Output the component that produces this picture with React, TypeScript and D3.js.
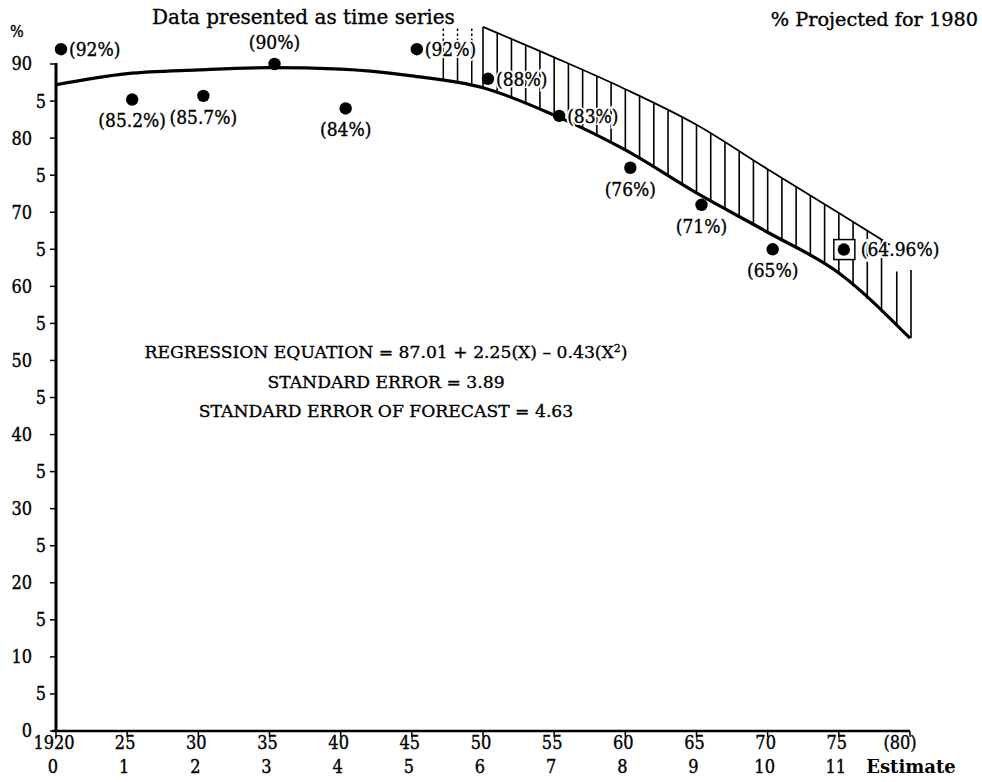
import React from 'react';
import * as d3 from 'd3';

// ---------- data ----------
const pointYears = [1920, 1925, 1930, 1935, 1940, 1945, 1950, 1955, 1960, 1965, 1970, 1975];
const pointValues = [92, 85.2, 85.7, 90, 84, 92, 88, 83, 76, 71, 65, 64.96];
const pointLabels = ['(92%)', '(85.2%)', '(85.7%)', '(90%)', '(84%)', '(92%)', '(88%)', '(83%)', '(76%)', '(71%)', '(65%)', '(64.96%)'];

// regression curve as drawn
const fitYears = [1920, 1925, 1930, 1935, 1940, 1945, 1950, 1955, 1960, 1965, 1970, 1975, 1980];
const fitValues = [87.2, 88.7, 89.2, 89.5, 89.3, 88.4, 86.8, 83.1, 78.4, 72.6, 67.3, 61.8, 53.0];

// upper limit of forecast band
const bandYears = [1950, 1955, 1960, 1965, 1970, 1975, 1978.6];
const bandUpper = [95.0, 90.9, 86.6, 81.8, 75.8, 69.9, 65.6];

// hatch lines (one per year)
const hatchDashedYears = [1947, 1948, 1949];
const hatchDashedTop = 94.8;
const hatchDashedSplit = 92.8;
const hatchTailYears = [1979, 1980];
const hatchTailTop = [62.0, 62.2];

const yearTickLabels = ['1920', '25', '30', '35', '40', '45', '50', '55', '60', '65', '70', '75', '(80)'];
const indexTickLabels = ['0', '1', '2', '3', '4', '5', '6', '7', '8', '9', '10', '11', 'Estimate'];
const yTickValues = d3.range(0, 91, 5);

const titleLeft = 'Data presented as time series';
const titleRight = '% Projected for 1980';
const eqLine2 = 'STANDARD ERROR = 3.89';
const eqLine3 = 'STANDARD ERROR OF FORECAST = 4.63';

// label placement (layout)
const labelPlacement = ['right', 'below', 'below', 'above', 'below', 'right', 'right', 'right', 'below', 'below', 'below', 'right'];

const FONT_C = '"DejaVu Serif Condensed", "DejaVu Serif", serif';
const FONT_R = '"DejaVu Serif", serif';
const INK = { fill: '#000', stroke: '#000', strokeWidth: 0.35 } as const;

export default function App() {
  const W = 982, H = 782;
  const x = d3.scaleLinear().domain([1920, 1980]).range([56, 910]);
  const y = d3.scaleLinear().domain([0, 90]).range([731, 64]);
  const DOT_DX = 5;

  const fitLine = d3.line<number>()
    .x((_, i) => x(fitYears[i]))
    .y((d) => y(d))
    .curve(d3.curveMonotoneX);
  const bandLine = d3.line<number>()
    .x((_, i) => x(bandYears[i]))
    .y((d) => y(d))
    .curve(d3.curveMonotoneX);

  const fitInterp = d3.scaleLinear().domain(fitYears).range(fitValues);
  const bandInterp = d3.scaleLinear().domain(bandYears).range(bandUpper);

  const solidHatchYears = d3.range(1950, 1979, 1);
  const yearTicks = d3.range(1920, 1981, 5);

  return (
    <svg width={W} height={H} style={{ position: 'absolute', left: 0, top: 0, background: '#fff' }}
      fontFamily={FONT_C}>
      <rect x={0} y={0} width={W} height={H} fill="#fff" />

      {/* hatch lines */}
      {hatchDashedYears.map((yr) => (
        <g key={'hd' + yr}>
          <line x1={x(yr) + 3} x2={x(yr) + 3} y1={y(hatchDashedTop)} y2={y(hatchDashedSplit)}
            stroke="#000" strokeWidth={1.5} strokeDasharray="2.5,2.5" />
          <line x1={x(yr) + 3} x2={x(yr) + 3} y1={y(hatchDashedSplit)} y2={y(fitInterp(yr))}
            stroke="#000" strokeWidth={1.5} />
        </g>
      ))}
      {solidHatchYears.map((yr) => (
        <line key={'hs' + yr} x1={x(yr)} x2={x(yr)} y1={y(bandInterp(Math.min(yr, 1978.6)))} y2={y(fitInterp(yr))}
          stroke="#000" strokeWidth={1.6} />
      ))}
      {hatchTailYears.map((yr, i) => (
        <line key={'ht' + yr} x1={x(yr) + 1} x2={x(yr) + 1} y1={y(hatchTailTop[i])} y2={y(fitInterp(yr))}
          stroke="#000" strokeWidth={1.6} />
      ))}

      {/* upper band boundary */}
      <path d={bandLine(bandUpper) || ''} fill="none" stroke="#000" strokeWidth={1.8} />

      {/* regression curve */}
      <path d={fitLine(fitValues) || ''} fill="none" stroke="#000" strokeWidth={3.2} />

      {/* axes */}
      <line x1={x(1920)} x2={x(1920)} y1={y(0)} y2={y(90) - 1} stroke="#000" strokeWidth={3} />
      <line x1={x(1920) - 4} x2={x(1980)} y1={y(0)} y2={y(0)} stroke="#000" strokeWidth={2.5} />

      {yTickValues.map((v) => (
        <g key={'yt' + v}>
          <line x1={x(1920) - 6} x2={x(1920)} y1={y(v)} y2={y(v)} stroke="#000" strokeWidth={1.5} />
          <text x={v % 10 === 0 ? 32 : 46} y={y(v)} dy="0.36em" textAnchor="end" fontSize={18} {...INK}>
            {v % 10 === 0 ? String(v) : '5'}
          </text>
        </g>
      ))}
      <text x={10} y={37} fontSize={16} {...INK}>%</text>

      {yearTicks.map((yr, i) => (
        <g key={'xt' + yr}>
          <line x1={x(yr)} x2={x(yr)} y1={y(0)} y2={y(0) + 6} stroke="#000" strokeWidth={1.5} />
          <text x={i === yearTicks.length - 1 ? x(yr) - 10 : x(yr) - 2} y={749} textAnchor="middle" fontSize={18} {...INK}>
            {yearTickLabels[i]}
          </text>
          <text x={i === yearTicks.length - 1 ? x(yr) + 1 : x(yr) - 3} y={773} textAnchor="middle"
            fontSize={18} fontFamily={i === yearTicks.length - 1 ? FONT_R : FONT_C}
            fontWeight={i === yearTicks.length - 1 ? 'bold' : 'normal'} fill="#000"
            stroke="#000" strokeWidth={i === yearTicks.length - 1 ? 0 : 0.35}>
            {indexTickLabels[i]}
          </text>
        </g>
      ))}

      {/* data points */}
      {pointYears.map((yr, i) => {
        const cx = x(yr) + DOT_DX;
        const cy = y(pointValues[i]);
        const place = labelPlacement[i];
        const isForecast = i === pointYears.length - 1;
        let lx = cx, ly = cy, anchor: 'start' | 'middle' = 'middle';
        if (place === 'right') { lx = cx + (isForecast ? 17 : 8); anchor = 'start'; ly = cy; }
        else if (place === 'below') { ly = cy + 21; }
        else { ly = cy - 22; }
        return (
          <g key={'p' + i}>
            {isForecast && (
              <rect x={cx - 10} y={cy - 10} width={21} height={20} fill="#fff" stroke="#000" strokeWidth={1.5} />
            )}
            <circle cx={cx} cy={cy} r={6.2} fill="#000" />
            <text x={lx} y={ly} dy="0.36em" textAnchor={anchor} fontSize={19} fill="#fff"
              stroke="#fff" strokeWidth={4}>
              {pointLabels[i]}
            </text>
            <text x={lx} y={ly} dy="0.36em" textAnchor={anchor} fontSize={19} {...INK}>
              {pointLabels[i]}
            </text>
          </g>
        );
      })}

      {/* titles */}
      <text x={152} y={24} fontSize={20} fontFamily={FONT_R} {...INK}>{titleLeft}</text>
      <text x={978} y={26} textAnchor="end" fontSize={19.3} fontFamily={FONT_R} {...INK}>{titleRight}</text>

      {/* equation block */}
      <g fontSize={17.2} fontFamily={FONT_R} fill="#000" stroke="#000" strokeWidth={0.35} textAnchor="middle">
        <text x={386} y={358}>
          REGRESSION EQUATION = 87.01 + 2.25(X) – 0.43(X
          <tspan fontSize={11} dy={-6}>2</tspan>
          <tspan dy={6}>)</tspan>
        </text>
        <text x={386} y={388}>{eqLine2}</text>
        <text x={386} y={417}>{eqLine3}</text>
      </g>
    </svg>
  );
}
